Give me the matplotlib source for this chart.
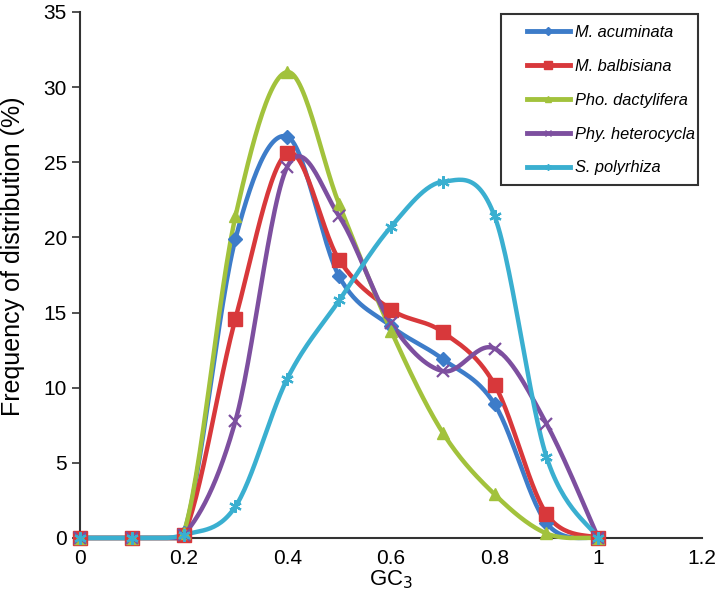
import numpy as np
import matplotlib
matplotlib.use("Agg")
import matplotlib.pyplot as plt
from matplotlib.patches import Rectangle

plt.rcParams['font.family'] = ['Liberation Sans', 'DejaVu Sans']

gc3 = [0.0, 0.1, 0.2, 0.3, 0.4, 0.5, 0.6, 0.7, 0.8, 0.9, 1.0]
m_acuminata = [0, 0, 0.3, 19.9, 26.7, 17.4, 14.1, 11.9, 8.9, 1.0, 0]
m_balbisiana = [0, 0, 0.2, 14.6, 25.6, 18.5, 15.2, 13.7, 10.2, 1.6, 0]
pho_dactylifera = [0, 0, 0.3, 21.4, 31.0, 22.2, 13.8, 7.0, 2.9, 0.3, 0]
phy_heterocycla = [0, 0, 0.2, 7.8, 24.7, 21.4, 14.3, 11.1, 12.6, 7.6, 0]
s_polyrhiza = [0, 0, 0.2, 2.1, 10.6, 15.8, 20.7, 23.7, 21.4, 5.4, 0]

names = ['M. acuminata', 'M. balbisiana', 'Pho. dactylifera', 'Phy. heterocycla', 'S. polyrhiza']
series = [m_acuminata, m_balbisiana, pho_dactylifera, phy_heterocycla, s_polyrhiza]
colors = ['#3d7cc9', '#d8383b', '#a2c23c', '#7d4f9f', '#3aafd0']
markers = ['D', 's', '^', 'x', (6, 2, 0)]
msizes = [7, 10, 9, 8, 9]


def catmull(x, y, n=30):
    x = np.asarray(x, float); y = np.asarray(y, float)
    sx, sy = 1 / 1.2, 1 / 35.0
    px = np.concatenate([[x[0]], x, [x[-1]]]) * sx
    py = np.concatenate([[y[0]], y, [y[-1]]]) * sy
    ox, oy = [], []
    for i in range(1, len(px) - 2):
        p0 = np.array([px[i - 1], py[i - 1]]); p1 = np.array([px[i], py[i]])
        p2 = np.array([px[i + 1], py[i + 1]]); p3 = np.array([px[i + 2], py[i + 2]])
        c1 = p1 + (p2 - p0) / 6
        c2 = p2 - (p3 - p1) / 6
        t = np.linspace(0, 1, n)[:, None]
        b = (1 - t) ** 3 * p1 + 3 * (1 - t) ** 2 * t * c1 + 3 * (1 - t) * t ** 2 * c2 + t ** 3 * p2
        ox.extend(b[:, 0]); oy.extend(b[:, 1])
    return np.array(ox) / sx, np.maximum(np.array(oy) / sy, 0)


W, H = 716, 604
fig = plt.figure(figsize=(W / 100, H / 100), dpi=100)
ax = fig.add_axes([0.1117, 0.1093, 0.8687, 0.871])

for name, ys, c, m, ms in zip(names, series, colors, markers, msizes):
    sx, sy = catmull(gc3, ys)
    ax.plot(sx, sy, color=c, lw=3.2, solid_capstyle='round', zorder=2, clip_on=False)
    ax.plot(gc3, ys, linestyle='none', marker=m, color=c, markersize=ms,
            markeredgewidth=1.6 if (m == 'x' or isinstance(m, tuple)) else 1,
            markeredgecolor=c, zorder=3, clip_on=False)
    ax.plot([], [], color=c, lw=3.5, marker=m, markersize=ms * 0.55, label=name)

ax.set_xlim(0, 1.2)
ax.set_ylim(0, 35)
ax.set_xticks([0, 0.2, 0.4, 0.6, 0.8, 1.0, 1.2])
ax.set_xticklabels(['0', '0.2', '0.4', '0.6', '0.8', '1', '1.2'])
ax.set_yticks(range(0, 36, 5))
for s in ['top', 'right']:
    ax.spines[s].set_visible(False)
for sp in ['left', 'bottom']:
    ax.spines[sp].set_color('#333333')
    ax.spines[sp].set_linewidth(1.5)
    ax.spines[sp].set_zorder(1)
ax.tick_params(axis='x', length=0, labelsize=15, pad=8)
ax.tick_params(axis='y', length=6, width=1.2, labelsize=15, color='#333333')
ax.set_xlabel('GC$_3$', fontsize=16, labelpad=0)
ax.set_ylabel('Frequency of distribution (%)', fontsize=18)
ax.yaxis.set_label_coords(-0.088, 0.536)

leg = fig.legend(*ax.get_legend_handles_labels(), loc='upper left',
                 bbox_to_anchor=(527 / W, 1 - 25 / H), frameon=False,
                 prop={'style': 'italic', 'size': 11.8}, handlelength=2.6, labelspacing=1.15,
                 borderpad=0, handletextpad=0.3, borderaxespad=0)
fig.add_artist(Rectangle((501 / W, 1 - 185 / H), 197 / W, 171 / H, transform=fig.transFigure,
                         fill=False, edgecolor='#333333', linewidth=1.5))

fig.savefig('out.png', dpi=100)
